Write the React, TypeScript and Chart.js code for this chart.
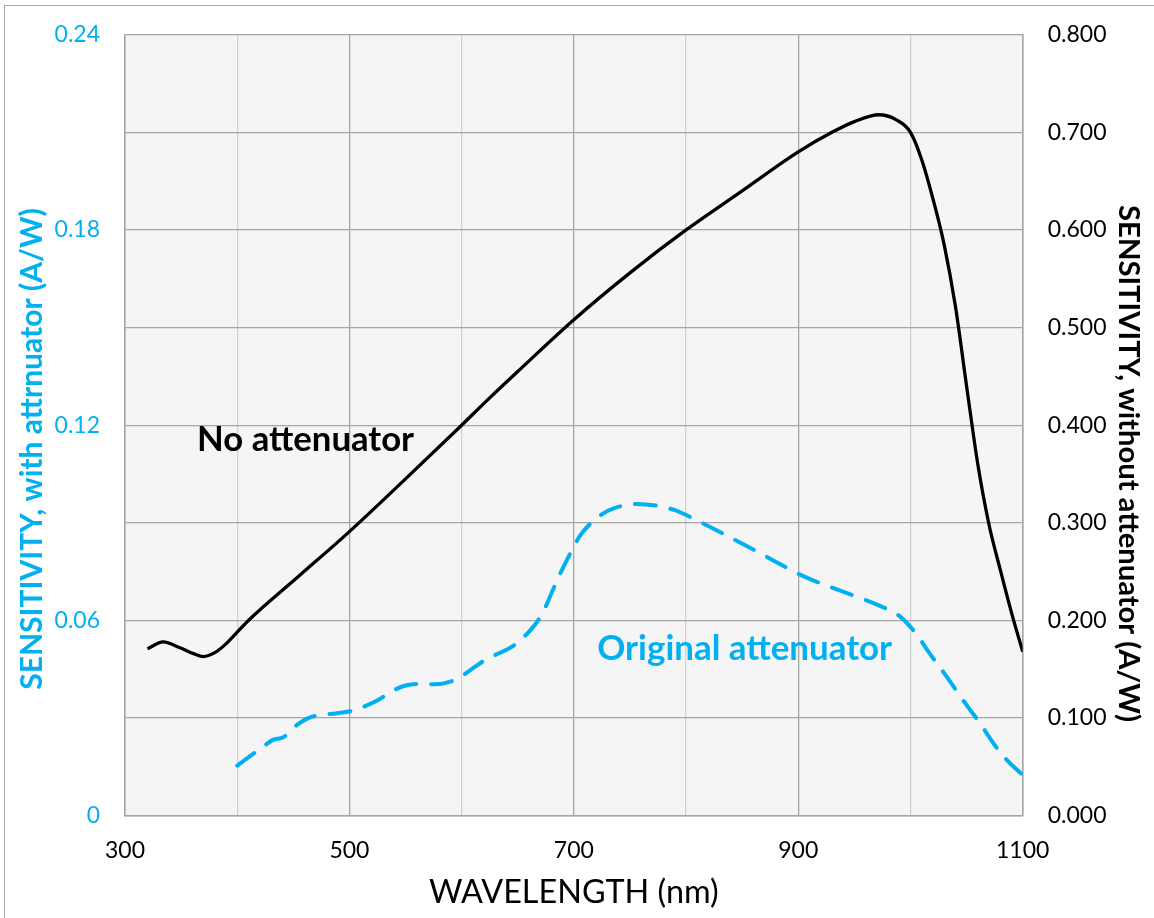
import React, { useEffect, useRef } from "react";
import { Chart, registerables } from "chart.js";

Chart.register(...registerables);

// ---------- data ----------
const wavelengthNoAtt = [
  320, 334, 349, 361, 370, 380, 390, 400, 410, 455, 500, 550, 600, 625, 650,
  700, 750, 800, 850, 900, 930, 950, 972, 987, 1000, 1010, 1020, 1030, 1040,
  1050, 1060, 1070, 1080, 1090, 1100,
];
const sensNoAtt = [
  0.171, 0.178, 0.172, 0.166, 0.163, 0.167, 0.176, 0.188, 0.2, 0.2455, 0.291,
  0.345, 0.4, 0.428, 0.455, 0.508, 0.556, 0.6, 0.64, 0.68, 0.7, 0.711,
  0.718, 0.713, 0.7, 0.672, 0.632, 0.585, 0.522, 0.44, 0.36, 0.298, 0.252,
  0.208, 0.168,
];

const wavelengthOrig = [
  400, 420, 432, 441, 453, 465, 489, 503, 515, 526, 537, 550, 560, 576, 590,
  600, 612, 622, 633, 646, 664, 672, 682, 688, 700, 706, 724, 736, 756, 775,
  790, 800, 813, 835, 869, 902, 920, 952, 976, 991, 1006, 1015, 1030, 1051,
  1062, 1074, 1086, 1100,
];
const sensOrig = [
  0.0154, 0.0204, 0.0233, 0.0241, 0.0278, 0.0302, 0.0315, 0.0323, 0.0338,
  0.0356, 0.0381, 0.04, 0.0405, 0.0404, 0.0412, 0.0429, 0.0458, 0.0481,
  0.0499, 0.0522, 0.0581, 0.0622, 0.0699, 0.0745, 0.0827, 0.0863, 0.0924,
  0.0945, 0.0958, 0.0952, 0.0939, 0.0924, 0.0902, 0.0863, 0.0801, 0.074,
  0.0714, 0.0673, 0.064, 0.0611, 0.0555, 0.0509, 0.0438, 0.0335, 0.0284,
  0.0222, 0.0171, 0.0125,
];

const xTickLabels = ["300", "500", "700", "900", "1100"];
const leftTickLabels = ["0", "0.06", "0.12", "0.18", "0.24"];
const rightTickLabels = ["0.000", "0.100", "0.200", "0.300", "0.400", "0.500", "0.600", "0.700", "0.800"];

const xTitle = "WAVELENGTH (nm)";
const leftTitle = "SENSITIVITY, with attrnuator (A/W)";
const rightTitle = "SENSITIVITY, without attenuator (A/W)";
const labelNoAtt = "No attenuator";
const labelOrig = "Original attenuator";

// ---------- styles ----------
const BLUE = "#00B0F0";
const FONT = "Lato, 'Open Sans', sans-serif";
const MAJOR_GRID = "#a6a6a6";
const MINOR_GRID = "#d2d2d2";

function fitSize(ctx: CanvasRenderingContext2D, text: string, weight: string, width: number) {
  ctx.font = `${weight} 100px ${FONT}`;
  const w = ctx.measureText(text).width;
  return (100 * width) / w;
}

function drawText(
  ctx: CanvasRenderingContext2D,
  text: string,
  x: number,
  y: number,
  opts: { weight: string; width: number; color: string; align: CanvasTextAlign; rot: number }
) {
  const size = fitSize(ctx, text, opts.weight, opts.width);
  ctx.save();
  ctx.translate(x, y);
  ctx.rotate(opts.rot);
  ctx.font = `${opts.weight} ${size}px ${FONT}`;
  ctx.fillStyle = opts.color;
  ctx.textAlign = opts.align;
  ctx.textBaseline = "alphabetic";
  ctx.fillText(text, 0, 0);
  ctx.restore();
}

const decorPlugin = {
  id: "decor",
  beforeDraw(chart: any) {
    const { ctx, chartArea: a } = chart;
    ctx.save();
    ctx.fillStyle = "#f5f5f5";
    ctx.fillRect(a.left, a.top, a.right - a.left, a.bottom - a.top);
    ctx.restore();
  },
  afterDraw(chart: any) {
    const { ctx, chartArea: a, scales } = chart;
    const xs = scales.x;
    drawText(ctx, labelNoAtt, xs.getPixelForValue(364.2), scales.y2.getPixelForValue(0.3735), {
      weight: "bold", width: 217, color: "#000", align: "left", rot: 0,
    });
    drawText(ctx, labelOrig, xs.getPixelForValue(720.8), scales.y.getPixelForValue(0.0478), {
      weight: "bold", width: 295, color: BLUE, align: "left", rot: 0,
    });
    drawText(ctx, xTitle, (a.left + a.right) / 2, 903, {
      weight: "normal", width: 290, color: "#000", align: "center", rot: 0,
    });
    drawText(ctx, leftTitle, 41.5, 449, {
      weight: "bold", width: 482, color: BLUE, align: "center", rot: -Math.PI / 2,
    });
    drawText(ctx, rightTitle, 1118.5, 463.5, {
      weight: "bold", width: 517, color: "#000", align: "center", rot: Math.PI / 2,
    });
  },
};

export default function App() {
  const ref = useRef<HTMLCanvasElement>(null);

  useEffect(() => {
    const canvas = ref.current;
    if (!canvas) return;
    const tickFont = { family: FONT, size: 23 };

    const chart = new Chart(canvas, {
      type: "line",
      data: {
        datasets: [
          {
            label: labelNoAtt,
            data: wavelengthNoAtt.map((x, i) => ({ x, y: sensNoAtt[i] })),
            yAxisID: "y2",
            borderColor: "#000",
            borderWidth: 3.3,
            pointRadius: 0,
            cubicInterpolationMode: "monotone",
            fill: false,
          },
          {
            label: labelOrig,
            data: wavelengthOrig.map((x, i) => ({ x, y: sensOrig[i] })),
            yAxisID: "y",
            borderColor: BLUE,
            borderWidth: 4,
            borderDash: [21, 15],
            borderCapStyle: "round",
            pointRadius: 0,
            cubicInterpolationMode: "monotone",
            fill: false,
          },
        ],
      },
      options: {
        responsive: false,
        animation: false,
        events: [],
        layout: { padding: { top: 34.7, left: 0, right: 0, bottom: 0 } },
        plugins: {
          legend: { display: false },
          tooltip: { enabled: false },
        },
        scales: {
          x: {
            type: "linear",
            min: 300,
            max: 1100,
            afterFit: (s: any) => {
              s.height = 918 - 815.7;
            },
            ticks: {
              stepSize: 100,
              autoSkip: false,
              maxRotation: 0,
              padding: 21,
              color: "#000",
              font: tickFont,
              callback: (v: any) => {
                const idx = xTickLabels.indexOf(String(Math.round(Number(v))));
                return idx >= 0 ? xTickLabels[idx] : "";
              },
            },
            grid: {
              drawTicks: false,
              lineWidth: 1.3,
              color: (c: any) => {
                const v = Math.round(c.tick?.value ?? 0);
                return (v - 300) % 200 === 0 ? MAJOR_GRID : MINOR_GRID;
              },
            },
            border: { display: true, color: MAJOR_GRID, width: 1.5 },
          },
          y: {
            type: "linear",
            position: "left",
            min: 0,
            max: 0.24,
            afterFit: (s: any) => {
              s.width = 125;
              s.paddingTop = 0;
              s.paddingBottom = 0;
            },
            ticks: {
              stepSize: 0.03,
              autoSkip: false,
              padding: 25,
              color: BLUE,
              font: tickFont,
              callback: (_v: any, i: number) => (i % 2 === 0 ? leftTickLabels[i / 2] : ""),
            },
            grid: { drawTicks: false, lineWidth: 1.3, color: MAJOR_GRID },
            border: { display: true, color: MAJOR_GRID, width: 1.5 },
          },
          y2: {
            type: "linear",
            position: "right",
            min: 0,
            max: 0.8,
            afterFit: (s: any) => {
              s.width = 1154 - 1022.7;
              s.paddingTop = 0;
              s.paddingBottom = 0;
            },
            ticks: {
              stepSize: 0.1,
              autoSkip: false,
              padding: 25,
              color: "#000",
              font: tickFont,
              callback: (_v: any, i: number) => rightTickLabels[i] ?? "",
            },
            grid: { display: false, drawTicks: false },
            border: { display: true, color: MAJOR_GRID, width: 1.5 },
          },
        },
      },
      plugins: [decorPlugin],
    } as any);

    return () => chart.destroy();
  }, []);

  return (
    <div
      style={{
        position: "absolute",
        left: 0,
        top: 0,
        width: 1154,
        height: 918,
        background: "#fff",
        overflow: "hidden",
      }}
    >
      <div
        style={{
          position: "absolute",
          left: 4,
          top: 5,
          width: 1200,
          height: 960,
          border: "1.5px solid #a6a6a6",
          boxSizing: "border-box",
        }}
      />
      <canvas
        ref={ref}
        width={1154}
        height={918}
        style={{ position: "absolute", left: 0, top: 0, width: 1154, height: 918 }}
      />
    </div>
  );
}
